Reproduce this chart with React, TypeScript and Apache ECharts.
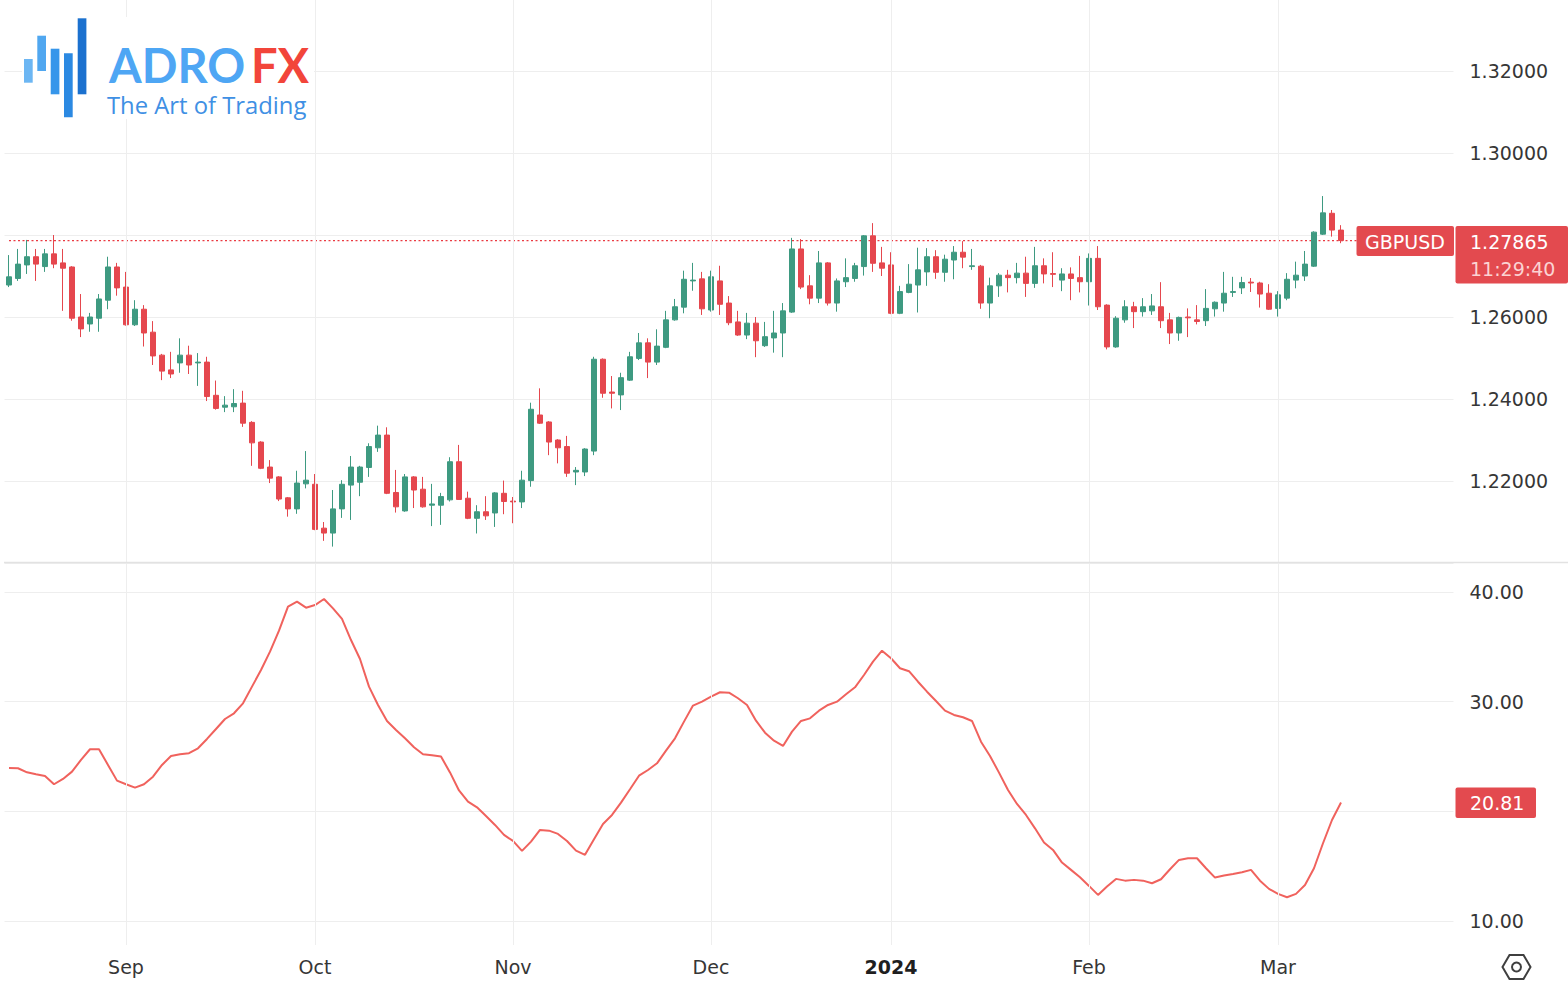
import React, { useEffect, useRef } from 'react';
import * as echarts from 'echarts';

// ---- data ----
const firstDay = '2023-08-15';
const holidays = ['2023-12-25', '2024-01-01'];
const padBars = 12;
const monthNames = ['Jan', 'Feb', 'Mar', 'Apr', 'May', 'Jun', 'Jul', 'Aug', 'Sep', 'Oct', 'Nov', 'Dec'];

const opens = [
  1.2678, 1.2694, 1.2727, 1.2747, 1.2723, 1.2754, 1.2732, 1.2722, 1.2600, 1.2583,
  1.2597, 1.2641, 1.2722, 1.2673, 1.2581, 1.2619, 1.2563, 1.2507, 1.2471, 1.2488,
  1.2507, 1.2488, 1.2490, 1.2409, 1.2380, 1.2381, 1.2390, 1.2343, 1.2295, 1.2234,
  1.2210, 1.2159, 1.2132, 1.2193, 1.2192, 1.2085, 1.2073, 1.2132, 1.2190, 1.2197,
  1.2233, 1.2281, 1.2312, 1.2172, 1.2127, 1.2210, 1.2180, 1.2141, 1.2141, 1.2154,
  1.2247, 1.2158, 1.2109, 1.2125, 1.2122, 1.2170, 1.2151, 1.2149, 1.2201, 1.2361,
  1.2344, 1.2300, 1.2284, 1.2222, 1.2222, 1.2273, 1.2497, 1.2417, 1.2410, 1.2446,
  1.2499, 1.2537, 1.2490, 1.2526, 1.2593, 1.2624, 1.2688, 1.2693, 1.2617, 1.2688,
  1.2634, 1.2588, 1.2556, 1.2585, 1.2530, 1.2549, 1.2561, 1.2612, 1.2766, 1.2676,
  1.2646, 1.2732, 1.2634, 1.2686, 1.2694, 1.2723, 1.2798, 1.2732, 1.2727, 1.2609,
  1.2660, 1.2678, 1.2710, 1.2747, 1.2709, 1.2739, 1.2758, 1.2723, 1.2724, 1.2634,
  1.2676, 1.2702, 1.2696, 1.2707, 1.2682, 1.2725, 1.2706, 1.2690, 1.2705, 1.2696,
  1.2686, 1.2743, 1.2629, 1.2527, 1.2593, 1.2625, 1.2613, 1.2615, 1.2625, 1.2593,
  1.2561, 1.2600, 1.2593, 1.2591, 1.2620, 1.2634, 1.2660, 1.2671, 1.2685, 1.2683,
  1.2658, 1.2621, 1.2646, 1.2690, 1.2700, 1.2724, 1.2802, 1.2853, 1.2812,
];
const closes = [
  1.2698, 1.2729, 1.2747, 1.2729, 1.2754, 1.2729, 1.2719, 1.2597, 1.2571, 1.2600,
  1.2644, 1.2722, 1.2671, 1.2581, 1.2619, 1.2561, 1.2505, 1.2468, 1.2461, 1.2507,
  1.2483, 1.2490, 1.2406, 1.2377, 1.2385, 1.2389, 1.2341, 1.2293, 1.2231, 1.2207,
  1.2156, 1.2132, 1.2195, 1.2202, 1.2082, 1.2073, 1.2132, 1.2192, 1.2234, 1.2234,
  1.2284, 1.2312, 1.2170, 1.2137, 1.2210, 1.2178, 1.2137, 1.2144, 1.2162, 1.2247,
  1.2155, 1.2109, 1.2125, 1.2115, 1.2171, 1.2150, 1.2149, 1.2202, 1.2375, 1.2341,
  1.2295, 1.2281, 1.2219, 1.2226, 1.2278, 1.2497, 1.2414, 1.2414, 1.2452, 1.2503,
  1.2537, 1.2490, 1.2529, 1.2593, 1.2625, 1.2692, 1.2690, 1.2620, 1.2698, 1.2631,
  1.2586, 1.2556, 1.2585, 1.2542, 1.2552, 1.2561, 1.2615, 1.2766, 1.2673, 1.2646,
  1.2732, 1.2634, 1.2688, 1.2696, 1.2725, 1.2798, 1.2731, 1.2719, 1.2609, 1.2662,
  1.2680, 1.2715, 1.2747, 1.2709, 1.2741, 1.2758, 1.2746, 1.2725, 1.2634, 1.2676,
  1.2702, 1.2696, 1.2707, 1.2682, 1.2725, 1.2705, 1.2704, 1.2705, 1.2694, 1.2686,
  1.2743, 1.2625, 1.2527, 1.2597, 1.2625, 1.2613, 1.2625, 1.2627, 1.2591, 1.2561,
  1.2599, 1.2598, 1.2589, 1.2621, 1.2636, 1.2658, 1.2662, 1.2684, 1.2683, 1.2656,
  1.2619, 1.2654, 1.2692, 1.2702, 1.2729, 1.2807, 1.2854, 1.2812, 1.27865,
];
const lows = [
  1.2673, 1.2688, 1.2705, 1.2688, 1.2710, 1.2719, 1.2615, 1.2591, 1.2551, 1.2564,
  1.2564, 1.2619, 1.2652, 1.2579, 1.2578, 1.2528, 1.2483, 1.2446, 1.2451, 1.2464,
  1.2461, 1.2432, 1.2395, 1.2374, 1.2368, 1.2368, 1.2332, 1.2237, 1.2229, 1.2195,
  1.2151, 1.2113, 1.2120, 1.2182, 1.2080, 1.2054, 1.2040, 1.2110, 1.2105, 1.2163,
  1.2210, 1.2271, 1.2168, 1.2123, 1.2125, 1.2134, 1.2135, 1.2090, 1.2093, 1.2150,
  1.2154, 1.2107, 1.2072, 1.2105, 1.2088, 1.2119, 1.2097, 1.2134, 1.2186, 1.2339,
  1.2263, 1.2243, 1.2210, 1.2190, 1.2212, 1.2263, 1.2403, 1.2377, 1.2373, 1.2444,
  1.2495, 1.2451, 1.2483, 1.2524, 1.2591, 1.2609, 1.2664, 1.2605, 1.2613, 1.2605,
  1.2580, 1.2554, 1.2546, 1.2502, 1.2527, 1.2513, 1.2502, 1.2610, 1.2668, 1.2631,
  1.2634, 1.2628, 1.2613, 1.2673, 1.2686, 1.2701, 1.2710, 1.2700, 1.2607, 1.2607,
  1.2658, 1.2611, 1.2676, 1.2693, 1.2686, 1.2692, 1.2719, 1.2715, 1.2620, 1.2597,
  1.2649, 1.2660, 1.2682, 1.2649, 1.2671, 1.2682, 1.2673, 1.2663, 1.2641, 1.2660,
  1.2628, 1.2617, 1.2521, 1.2525, 1.2586, 1.2573, 1.2601, 1.2605, 1.2573, 1.2534,
  1.2542, 1.2551, 1.2582, 1.2578, 1.2601, 1.2613, 1.2649, 1.2656, 1.2661, 1.2623,
  1.2617, 1.2601, 1.2641, 1.2670, 1.2688, 1.2722, 1.2800, 1.2796, 1.2780,
];
const highs = [
  1.2751, 1.2766, 1.2788, 1.2766, 1.2766, 1.2800, 1.2766, 1.2724, 1.2656, 1.2610,
  1.2656, 1.2747, 1.2732, 1.2710, 1.2641, 1.2629, 1.2590, 1.2510, 1.2515, 1.2548,
  1.2530, 1.2512, 1.2503, 1.2445, 1.2407, 1.2424, 1.2420, 1.2346, 1.2297, 1.2251,
  1.2212, 1.2161, 1.2225, 1.2273, 1.2217, 1.2100, 1.2178, 1.2202, 1.2261, 1.2237,
  1.2292, 1.2335, 1.2331, 1.2227, 1.2217, 1.2212, 1.2210, 1.2193, 1.2171, 1.2258,
  1.2288, 1.2174, 1.2141, 1.2163, 1.2173, 1.2201, 1.2161, 1.2225, 1.2391, 1.2426,
  1.2346, 1.2302, 1.2310, 1.2234, 1.2280, 1.2503, 1.2499, 1.2456, 1.2464, 1.2515,
  1.2561, 1.2548, 1.2570, 1.2615, 1.2644, 1.2713, 1.2732, 1.2710, 1.2713, 1.2725,
  1.2651, 1.2615, 1.2610, 1.2600, 1.2588, 1.2615, 1.2634, 1.2793, 1.2790, 1.2702,
  1.2761, 1.2734, 1.2694, 1.2743, 1.2732, 1.2800, 1.2829, 1.2771, 1.2758, 1.2676,
  1.2729, 1.2769, 1.2768, 1.2763, 1.2752, 1.2773, 1.2785, 1.2766, 1.2727, 1.2696,
  1.2707, 1.2715, 1.2732, 1.2747, 1.2771, 1.2743, 1.2758, 1.2719, 1.2721, 1.2749,
  1.2755, 1.2773, 1.2631, 1.2602, 1.2641, 1.2637, 1.2646, 1.2656, 1.2685, 1.2610,
  1.2601, 1.2621, 1.2629, 1.2668, 1.2638, 1.2710, 1.2698, 1.2698, 1.2695, 1.2686,
  1.2680, 1.2663, 1.2707, 1.2735, 1.2761, 1.2809, 1.2895, 1.2861, 1.2824,
];
const adxValues = [
  23.96, 23.93, 23.56, 23.38, 23.23, 22.47, 22.95, 23.62, 24.69, 25.66,
  25.66, 24.23, 22.80, 22.47, 22.16, 22.47, 23.16, 24.23, 25.05, 25.20,
  25.30, 25.75, 26.60, 27.51, 28.42, 28.94, 29.85, 31.37, 32.89, 34.56,
  36.47, 38.66, 39.12, 38.57, 38.81, 39.36, 38.51, 37.54, 35.62, 33.89,
  31.37, 29.70, 28.24, 27.42, 26.66, 25.84, 25.20, 25.11, 24.99, 23.55,
  21.90, 20.88, 20.37, 19.58, 18.76, 17.85, 17.30, 16.39, 17.24, 18.30,
  18.24, 17.94, 17.30, 16.42, 16.03, 17.46, 18.85, 19.67, 20.79, 22.01,
  23.25, 23.77, 24.38, 25.53, 26.66, 28.18, 29.64, 30.00, 30.46, 30.86,
  30.82, 30.31, 29.70, 28.27, 27.17, 26.44, 25.96, 27.27, 28.24, 28.48,
  29.18, 29.70, 30.00, 30.67, 31.31, 32.43, 33.65, 34.65, 33.96, 33.05,
  32.78, 31.82, 30.91, 30.06, 29.18, 28.79, 28.58, 28.24, 26.35, 25.05,
  23.53, 21.95, 20.67, 19.67, 18.45, 17.15, 16.48, 15.33, 14.66, 13.99,
  13.20, 12.38, 13.14, 13.84, 13.68, 13.75, 13.68, 13.44, 13.81, 14.72,
  15.57, 15.72, 15.72, 14.81, 13.96, 14.14, 14.29, 14.45, 14.66, 13.68,
  12.93, 12.47, 12.17, 12.47, 13.29, 14.81, 17.09, 19.21, 20.81,
];

const symbolName = 'GBPUSD';
const lastPrice = 1.27865;
const lastPriceText = '1.27865';
const countdownText = '11:29:40';
const adxLastText = '20.81';
const adxLast = 20.81;

// ---- helpers ----
function buildDates(n: number): string[] {
  const out: string[] = [];
  const d = new Date(firstDay + 'T00:00:00Z');
  while (out.length < n) {
    const dow = d.getUTCDay();
    const s = d.toISOString().slice(0, 10);
    if (dow !== 0 && dow !== 6 && holidays.indexOf(s) < 0) out.push(s);
    d.setUTCDate(d.getUTCDate() + 1);
  }
  return out;
}

const dates = buildDates(opens.length + padBars);
const monthStarts: number[] = [];
for (let i = 1; i < opens.length; i++) {
  if (dates[i].slice(0, 7) !== dates[i - 1].slice(0, 7)) monthStarts.push(i);
}
const monthStartSet = new Set(monthStarts);
const candleData = opens.map((o, i) => [o, closes[i], lows[i], highs[i]]);
const lastPriceLine = dates.map(() => lastPrice);

const UP = '#3e9a81';
const DOWN = '#e5474e';
const LABEL_RED = '#e34a4f';
const TEXT = '#363636';
const GRIDC = '#eeeeee';
const FONT = '"DejaVu Sans", sans-serif';
const FS = 19;

const GL = 4.5;
const GR = 1568 - (4.5 + 9 * dates.length);
// price pane: 1.20 at the pane bottom (y=563), 4100 px per 1.0
const PRICE_TOP = 0;
const PRICE_H = 563;
const PRICE_MIN = 1.2;
const PRICE_MAX = PRICE_MIN + PRICE_H / 4100;

function buildOption(): any {
  const hiddenX = (gridIndex: number) => ({
    type: 'category',
    gridIndex,
    data: dates,
    boundaryGap: true,
    axisLine: { show: false },
    axisTick: { show: false },
    axisLabel: { show: false },
    splitLine: { show: false },
  });
  return {
    animation: false,
    backgroundColor: '#ffffff',
    grid: [
      { left: GL, right: GR, top: PRICE_TOP, height: PRICE_H },
      { left: GL, right: GR, top: 592, height: 329 },
      { left: GL, right: GR, top: 0, height: 945 },
    ],
    xAxis: [
      hiddenX(0),
      hiddenX(1),
      {
        ...hiddenX(2),
        axisLabel: {
          show: true,
          interval: (i: number) => monthStartSet.has(i),
          margin: 12,
          fontSize: FS,
          fontFamily: FONT,
          color: TEXT,
          formatter: (v: string) => {
            const m = parseInt(v.slice(5, 7), 10);
            if (m === 1) return '{y|' + v.slice(0, 4) + '}';
            return monthNames[m - 1];
          },
          rich: { y: { fontWeight: 'bold', fontSize: FS, fontFamily: FONT, color: '#1f1f1f' } },
        },
      },
    ],
    yAxis: [
      {
        type: 'value',
        gridIndex: 0,
        position: 'right',
        min: PRICE_MIN,
        max: PRICE_MAX,
        interval: 0.02,
        axisLine: { show: false },
        axisTick: { show: false },
        axisLabel: {
          margin: 16,
          fontSize: FS,
          fontFamily: FONT,
          color: TEXT,
          showMaxLabel: false,
          // labels outside the pane, or hidden behind the last-price tag, are left out
          formatter: (v: number) =>
            v > 1.21 && v < 1.33 && Math.abs(v - lastPrice) > 0.004 ? v.toFixed(5) : '',
        },
        splitLine: { showMaxLine: false, lineStyle: { color: GRIDC, width: 1 } },
      },
      {
        type: 'value',
        gridIndex: 1,
        position: 'right',
        min: 10,
        max: 40,
        interval: 10,
        axisLine: { show: false },
        axisTick: { show: false },
        axisLabel: {
          margin: 16,
          fontSize: FS,
          fontFamily: FONT,
          color: TEXT,
          // the label behind the current-value tag is left out
          formatter: (v: number) => (Math.abs(v - adxLast) < 2 ? '' : v.toFixed(2)),
        },
        splitLine: { lineStyle: { color: GRIDC, width: 1 } },
      },
      { type: 'value', gridIndex: 2, min: 0, max: 1, show: false, splitLine: { show: false } },
    ],
    series: [
      {
        type: 'line',
        xAxisIndex: 2,
        yAxisIndex: 2,
        data: dates.map(() => null),
        symbol: 'none',
        silent: true,
        z: 1,
        markLine: {
          silent: true,
          symbol: ['none', 'none'],
          label: { show: false },
          lineStyle: { color: GRIDC, width: 1, type: 'solid' },
          data: monthStarts.map((i) => ({ xAxis: dates[i] })),
        },
      },
      {
        type: 'line',
        name: 'last price',
        xAxisIndex: 0,
        yAxisIndex: 0,
        data: lastPriceLine,
        symbol: 'none',
        silent: true,
        z: 2,
        lineStyle: { color: '#ea3a42', width: 1.3, type: [2, 2.5] },
      },
      {
        type: 'candlestick',
        name: symbolName,
        xAxisIndex: 0,
        yAxisIndex: 0,
        data: candleData,
        barWidth: 6,
        z: 3,
        itemStyle: {
          color: UP,
          color0: DOWN,
          borderColor: UP,
          borderColor0: DOWN,
          borderWidth: 1,
        },
      },
      {
        type: 'line',
        name: 'ADX',
        xAxisIndex: 1,
        yAxisIndex: 1,
        data: adxValues,
        symbol: 'none',
        z: 3,
        lineStyle: { color: '#f0625d', width: 2 },
      },
    ],
    graphic: [
      { type: 'line', z: 50, shape: { x1: 4, y1: 562.5, x2: 1568, y2: 562.5 }, style: { stroke: '#e2e2e2', lineWidth: 1.5 } },
      { type: 'rect', z: 60, shape: { x: 22, y: 17, width: 292, height: 102 }, style: { fill: '#ffffff' } },
      { type: 'rect', z: 61, shape: { x: 24, y: 59, width: 8.7, height: 23.7 }, style: { fill: '#6cb6f3' } },
      { type: 'rect', z: 61, shape: { x: 37.3, y: 35.7, width: 8.7, height: 35.3 }, style: { fill: '#50a7f0' } },
      { type: 'rect', z: 61, shape: { x: 50.7, y: 48.7, width: 8.7, height: 45.6 }, style: { fill: '#3696ea' } },
      { type: 'rect', z: 61, shape: { x: 64, y: 53.3, width: 8.7, height: 64 }, style: { fill: '#2b89e2' } },
      { type: 'rect', z: 61, shape: { x: 77.7, y: 18.3, width: 8.7, height: 76 }, style: { fill: '#1b71cf' } },
      { type: 'text', z: 62, style: { text: 'ADRO', x: 109, y: 65, font: 'bold 47px Lato, "Noto Sans", sans-serif', fill: '#4ea6f4', textVerticalAlign: 'middle' } },
      { type: 'text', z: 62, style: { text: 'FX', x: 251, y: 65, font: 'bold 47px Lato, "Noto Sans", sans-serif', fill: '#f2453a', textVerticalAlign: 'middle' } },
      { type: 'text', z: 62, style: { text: 'The Art of Trading', x: 107, y: 105, font: '23.8px "Open Sans", "Noto Sans", sans-serif', fill: '#3f90e4', textVerticalAlign: 'middle' } },
      { type: 'rect', z: 70, shape: { x: 1356.5, y: 226, width: 97.5, height: 30, r: 2 }, style: { fill: LABEL_RED } },
      { type: 'text', z: 71, style: { text: symbolName, x: 1405, y: 241.5, font: FS + 'px ' + FONT, fill: '#ffffff', textAlign: 'center', textVerticalAlign: 'middle' } },
      { type: 'rect', z: 70, shape: { x: 1455.5, y: 226, width: 112.5, height: 57.5, r: 2 }, style: { fill: LABEL_RED } },
      { type: 'text', z: 71, style: { text: lastPriceText, x: 1470, y: 241.5, font: FS + 'px ' + FONT, fill: '#ffffff', textVerticalAlign: 'middle' } },
      { type: 'text', z: 71, style: { text: countdownText, x: 1470, y: 268.5, font: FS + 'px ' + FONT, fill: '#fbd3d3', textVerticalAlign: 'middle' } },
      { type: 'rect', z: 70, shape: { x: 1455.5, y: 787.5, width: 80.5, height: 30.5, r: 2 }, style: { fill: LABEL_RED } },
      { type: 'text', z: 71, style: { text: adxLastText, x: 1470, y: 803, font: FS + 'px ' + FONT, fill: '#ffffff', textVerticalAlign: 'middle' } },
      {
        type: 'polygon', z: 70,
        shape: { points: [[1502.5, 967], [1509.5, 955], [1523.5, 955], [1530.5, 967], [1523.5, 979], [1509.5, 979]] },
        style: { fill: 'none', stroke: '#3f3f3f', lineWidth: 2 },
      },
      { type: 'circle', z: 70, shape: { cx: 1516.5, cy: 967, r: 4.5 }, style: { fill: 'none', stroke: '#3f3f3f', lineWidth: 2 } },
    ],
  };
}

export default function App() {
  const ref = useRef<HTMLDivElement>(null);
  useEffect(() => {
    if (!ref.current) return;
    const chart = echarts.init(ref.current, null, { renderer: 'svg' });
    chart.setOption(buildOption());
    return () => chart.dispose();
  }, []);
  return (
    <div
      ref={ref}
      style={{ position: 'fixed', left: 0, top: 0, width: 1568, height: 988, background: '#ffffff' }}
    />
  );
}
